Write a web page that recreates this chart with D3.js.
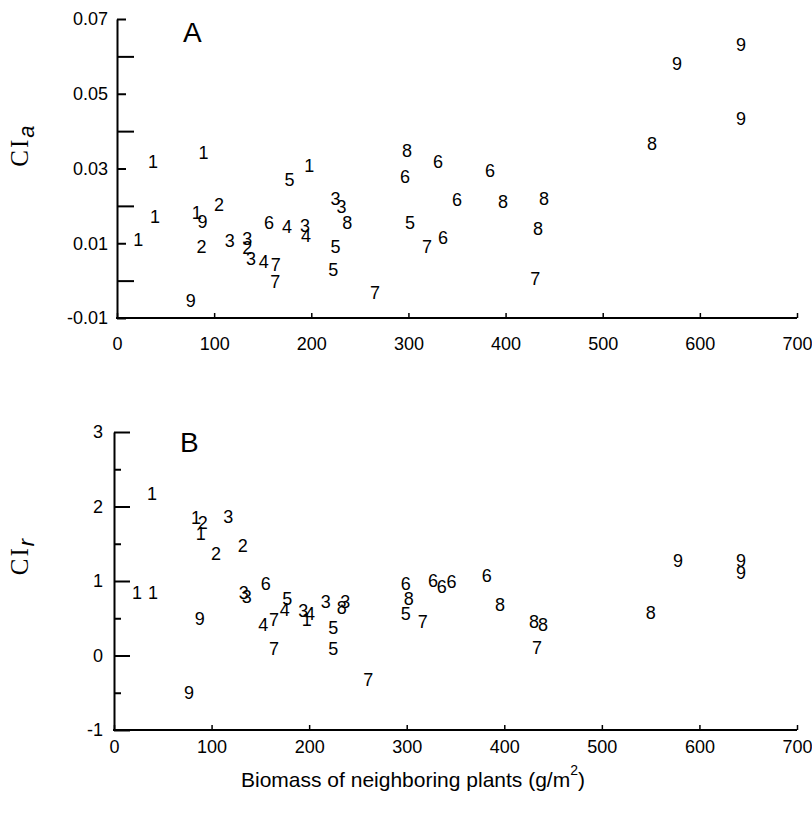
<!DOCTYPE html>
<html>
<head>
<meta charset="utf-8">
<script src="https://cdn.jsdelivr.net/npm/d3@7"></script>
<style>
  html, body { margin: 0; padding: 0; background: #fff; }
  svg { display: block; }
  .tick text { font-family: "Liberation Sans", Arial, Helvetica, sans-serif; font-size: 18px; fill: #000; }
  .pt { font-family: "Liberation Sans", Arial, Helvetica, sans-serif; font-size: 18px; fill: #000; }
</style>
</head>
<body>
<svg id="chart" width="812" height="813"></svg>
<script>
// ---- Panel A data: competition index CIa vs neighbour biomass ----
const aBiomass = [22, 37, 39, 89, 82, 88, 105, 87, 76, 116, 134, 134, 138, 151, 163.5, 163, 156.6, 175, 177.5, 198,
  193.5, 194.5, 225, 231, 237, 225, 222.5, 265.6, 298.5, 296.5, 301.6, 319, 335.6, 330.5, 350, 384, 397.4, 439.6,
  433.4, 430.5, 550.7, 576.5, 642.4, 642.4];
const aSpecies = ["1","1","1","1","1","9","2","2","9","3","3","2","3","4","7","7","6","4","5","1",
  "3","4","3","3","8","5","5","7","8","6","5","7","6","6","6","6","8","8",
  "8","7","8","9","9","9"];
const aCI = [0.011, 0.0318, 0.0171, 0.0344, 0.0181, 0.0157, 0.0203, 0.009, -0.0054, 0.0106, 0.0112, 0.0088, 0.0058,
  0.005, 0.0042, -0.0003, 0.0155, 0.0144, 0.027, 0.0307, 0.0147, 0.012, 0.0221, 0.0197, 0.0155, 0.009, 0.0029,
  -0.0033, 0.0347, 0.0278, 0.0155, 0.009, 0.0114, 0.0318, 0.0216, 0.0294, 0.0211, 0.0221, 0.0139, 0.0005, 0.0368,
  0.058, 0.0633, 0.0435];

// ---- Panel B data: competition index CIr vs neighbour biomass ----
const bBiomass = [38.9, 23.6, 40, 84, 91, 89, 117, 132, 104.5, 88, 77, 133, 136, 155.6, 177.6, 175, 153, 164, 164,
  194, 201, 197.5, 217, 237, 233.5, 224.6, 224.6, 260.6, 299, 302, 299, 316.5, 327, 336, 346, 382, 395.6, 430.5,
  439.7, 433.5, 550, 578, 642.6, 642.6];
const bSpecies = ["1","1","1","1","2","1","3","2","2","9","9","3","3","6","5","4","4","7","7",
  "3","4","1","3","3","8","5","5","7","6","8","5","7","6","6","6","6","8","8",
  "8","7","8","9","9","9"];
const bCI = [2.17, 0.84, 0.85, 1.85, 1.78, 1.64, 1.86, 1.48, 1.37, 0.49, -0.5, 0.85, 0.79, 0.96, 0.77, 0.62, 0.42,
  0.48, 0.1, 0.6, 0.57, 0.48, 0.72, 0.72, 0.64, 0.37, 0.1, -0.32, 0.97, 0.76, 0.57, 0.45, 1.01, 0.92, 0.99, 1.08,
  0.69, 0.46, 0.42, 0.11, 0.58, 1.28, 1.28, 1.12];

// ---- Tick values and labels ----
const xTicks = [0, 100, 200, 300, 400, 500, 600, 700];
const aMajorTicks = [0.07, 0.05, 0.03, 0.01, -0.01];
const aMajorLabels = ["0.07", "0.05", "0.03", "0.01", "-0.01"];
const aMinorTicks = [0.06, 0.04, 0.02, 0.0];
const bMajorTicks = [3, 2, 1, 0, -1];
const bMajorLabels = ["3", "2", "1", "0", "-1"];
const bMinorTicks = [2.5, 1.5, 0.5, -0.5];
const xTitle = "Biomass of neighboring plants (g/m";

const svg = d3.select("#chart");
const sansFont = '"Liberation Sans", Arial, Helvetica, sans-serif';

function drawPanel(cfg) {
  const x = d3.scaleLinear().domain([0, 700]).range([cfg.x0, cfg.x1]);
  const y = d3.scaleLinear().domain(cfg.yDomain).range([cfg.yBottom, cfg.yTop]);
  const g = svg.append("g");

  // x axis
  const xa = g.append("g").attr("transform", `translate(0,${cfg.yBottom})`)
    .call(d3.axisBottom(x).tickValues(xTicks).tickFormat(d3.format("d"))
      .tickSize(-5).tickSizeOuter(0).tickPadding(cfg.xPad));
  xa.select(".domain").attr("stroke-width", 2).attr("d", `M${cfg.x0 - 1},0H${cfg.x1}`);
  xa.selectAll(".tick line").attr("stroke-width", 1.5);

  // y axis major (labelled)
  const ya = g.append("g").attr("transform", `translate(${cfg.x0},0)`)
    .call(d3.axisLeft(y).tickValues(cfg.major).tickFormat((d, i) => cfg.majorLabels[i])
      .tickSize(-cfg.majorLen).tickSizeOuter(0).tickPadding(cfg.yPad));
  ya.select(".domain").attr("stroke-width", 2);
  ya.selectAll(".tick line").attr("stroke-width", 2);

  // y axis minor (unlabelled)
  const ym = g.append("g").attr("transform", `translate(${cfg.x0},0)`)
    .call(d3.axisLeft(y).tickValues(cfg.minor).tickFormat("")
      .tickSize(-cfg.minorLen).tickSizeOuter(0));
  ym.select(".domain").remove();
  ym.selectAll(".tick line").attr("stroke-width", 2);

  // points as species numbers
  g.selectAll("text.pt").data(cfg.xs.map((v, i) => ({ x: v, y: cfg.ys[i], s: cfg.labels[i] })))
    .join("text").attr("class", "pt")
    .attr("x", d => x(d.x)).attr("y", d => y(d.y))
    .attr("text-anchor", "middle").attr("dy", "0.36em")
    .text(d => d.s);

  // panel letter
  g.append("text").attr("x", cfg.letterX).attr("y", cfg.letterY)
    .attr("font-family", sansFont).attr("font-size", 28).text(cfg.letter);

  // y title
  const t = g.append("text").attr("transform", `translate(${cfg.titleX},${cfg.titleY}) rotate(-90)`)
    .attr("text-anchor", "middle");
  t.append("tspan").attr("font-family", '"Liberation Serif", "Times New Roman", serif')
    .attr("font-size", 25).attr("letter-spacing", 2).text("CI");
  t.append("tspan").attr("font-family", sansFont).attr("font-style", "italic")
    .attr("font-size", 22).attr("dy", 6).text(cfg.sub);
}

drawPanel({
  x0: 117, x1: 797, yBottom: 318, yTop: 19, yDomain: [-0.01, 0.07],
  major: aMajorTicks, majorLabels: aMajorLabels, minor: aMinorTicks,
  majorLen: 9, minorLen: 17, yPad: 9, xPad: 19,
  xs: aBiomass, ys: aCI, labels: aSpecies,
  letter: "A", letterX: 183, letterY: 42,
  titleX: 28, titleY: 146, sub: "a"
});

drawPanel({
  x0: 114, x1: 797, yBottom: 730, yTop: 432, yDomain: [-1, 3],
  major: bMajorTicks, majorLabels: bMajorLabels, minor: bMinorTicks,
  majorLen: 16, minorLen: 7, yPad: 11, xPad: 10,
  xs: bBiomass, ys: bCI, labels: bSpecies,
  letter: "B", letterX: 180, letterY: 452,
  titleX: 28, titleY: 557, sub: "r"
});

// x axis title
const xt = svg.append("text").attr("x", 413).attr("y", 787).attr("text-anchor", "middle")
  .attr("font-family", sansFont).attr("font-size", 21);
xt.append("tspan").text(xTitle);
xt.append("tspan").attr("font-size", 14).attr("dy", -12).text("2");
xt.append("tspan").attr("dy", 12).text(")");
</script>
</body>
</html>
